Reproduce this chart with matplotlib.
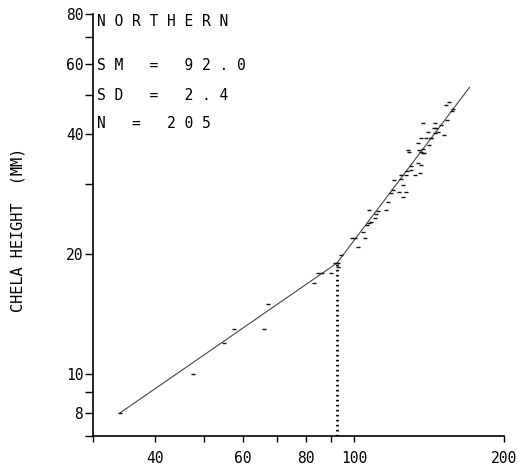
import numpy as np
import matplotlib
matplotlib.use('Agg')
from matplotlib import pyplot as plt

# fitted broken-stick line (carapace length vs chela height)
fit_x = [34.0, 92.5, 170.5]
fit_y = [8.0, 19.0, 52.4]
break_x = 92.5

# individual crabs
pts_x = [34.0, 47.5, 54.8, 57.6, 65.9, 67.2, 83.1, 84.6, 86.2, 89.9,
         91.8, 92.5, 93.1, 92.8, 94.2, 99.1, 100.6, 101.8, 105.3, 104.3,
         107.3, 106.0, 108.3, 110.4, 107.3, 116.0, 117.3, 125.6, 123.2, 127.3,
         120.2, 124.4, 127.3, 125.6, 132.4, 135.6, 130.3, 134.6, 136.5, 137.8,
         129.1, 158.0, 154.8, 153.2, 154.0, 145.6, 145.0, 146.3, 147.7, 141.0,
         137.8, 151.8, 139.7, 136.5, 143.0, 134.6, 141.7, 145.6, 135.2, 128.6,
         137.8, 138.4, 110.8, 118.8, 124.4, 130.3, 136.5, 143.0, 149.7, 157.0,
         112.0, 120.0, 128.0]
pts_y = [8.0, 10.0, 11.96, 12.97, 12.97, 14.97, 16.9, 17.9, 17.9, 17.9,
         19.0, 19.0, 19.0, 18.6, 19.87, 21.9, 21.9, 20.8, 21.9, 22.7,
         23.9, 23.6, 24.1, 24.7, 25.8, 25.8, 27.0, 27.8, 28.6, 28.6,
         30.6, 31.5, 31.5, 29.8, 31.5, 31.9, 32.5, 33.8, 33.4, 35.8,
         36.0, 46.1, 48.0, 47.2, 43.3, 42.6, 41.4, 41.4, 40.4, 40.4,
         42.6, 39.7, 39.0, 39.0, 39.2, 37.9, 37.5, 40.2, 36.4, 36.4,
         36.8, 35.9, 25.2, 28.5, 30.8, 33.3, 36.0, 39.0, 42.2, 45.8,
         25.6, 29.0, 32.4]

x_ticks = [30, 40, 50, 60, 70, 80, 90, 100, 200]
x_labels = ['', '40', '', '60', '', '80', '', '100', '200']
y_ticks = [7, 8, 9, 10, 20, 30, 40, 50, 60, 70, 80]
y_labels = ['', '8', '', '10', '20', '', '40', '', '60', '', '80']

info = ['NORTHERN', 'SM = 92.0', 'SD = 2.4', 'N = 205']

plt.rcParams['font.family'] = 'DejaVu Sans Mono'

fig = plt.figure(figsize=(5.27, 4.67), dpi=100)
ax = fig.add_axes([0.1765, 0.0664, 0.78, 0.9036])

ax.set_xscale('log')
ax.set_yscale('log')
ax.set_xlim(30, 200)
ax.set_ylim(7, 80)

ax.plot(fit_x, fit_y, color='#444444', lw=0.8)
ax.plot(pts_x, pts_y, linestyle='none', marker='_', color='#111111',
        markersize=3, markeredgewidth=1.0)
ax.plot([break_x, break_x], [7, fit_y[1]], color='k', lw=2,
        linestyle=(0, (0.6, 1.2)))

ax.minorticks_off()
ax.set_xticks(x_ticks)
ax.set_xticklabels(x_labels)
ax.set_yticks(y_ticks)
ax.set_yticklabels(y_labels)
ax.minorticks_off()
ax.tick_params(axis='x', direction='out', length=4, width=1, pad=7, labelsize=10.5)
ax.tick_params(axis='y', direction='out', length=6, width=1, pad=1, labelsize=10.5)

for side in ['top', 'right']:
    ax.spines[side].set_visible(False)
for side in ['left', 'bottom']:
    ax.spines[side].set_linewidth(1.2)

# stats block, letter-spaced like the plotter lettering
ypos = [22, 66, 95, 124]
for s, yp in zip(info, ypos):
    fig.text(97 / 527, 1 - yp / 467, ' '.join(s), fontsize=10.5,
             ha='left', va='center')

fig.text(18 / 527, 1 - 230 / 467, 'CHELA HEIGHT  (MM)', rotation=90,
         fontsize=11, ha='center', va='center')

plt.savefig('out.png', dpi=100)
